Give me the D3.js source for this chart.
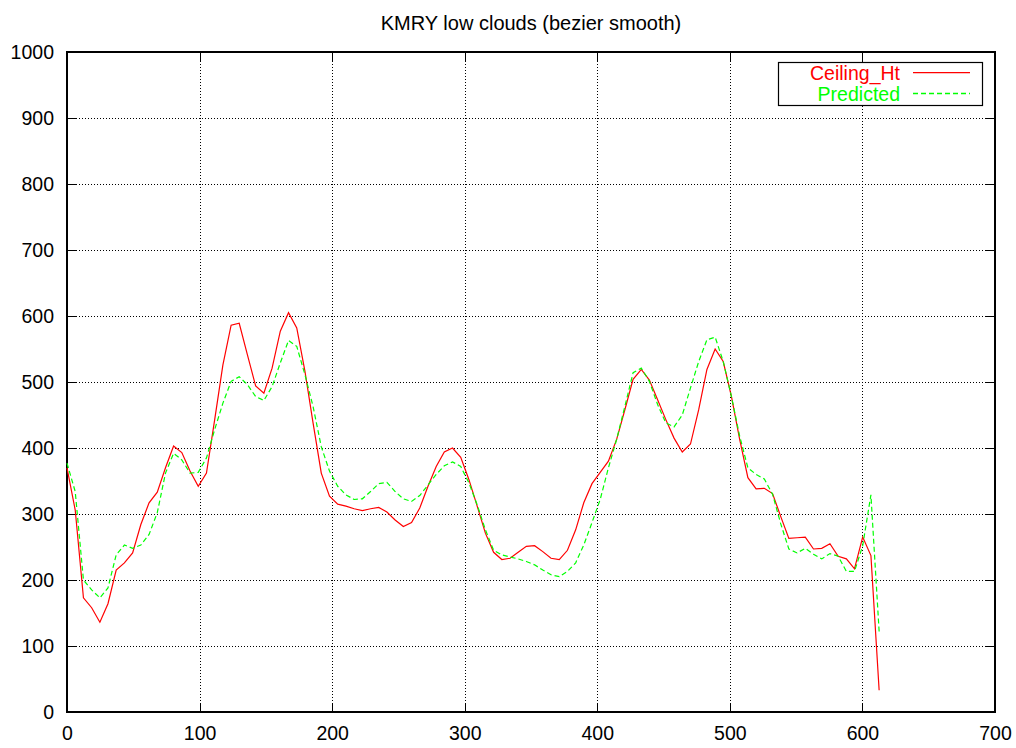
<!DOCTYPE html>
<html>
<head>
<meta charset="utf-8">
<script src="https://cdn.jsdelivr.net/npm/d3@7"></script>
<style>
  html, body { margin: 0; padding: 0; background: #fff; }
  svg { display: block; font-family: "Liberation Sans", Arial, Helvetica, sans-serif; }
</style>
</head>
<body>
<svg id="chart" width="1016" height="748"></svg>
<script>
const title = "KMRY low clouds (bezier smooth)";
const seriesNames = ["Ceiling_Ht", "Predicted"];
const xTicks = [0, 100, 200, 300, 400, 500, 600, 700];
const yTicks = [0, 100, 200, 300, 400, 500, 600, 700, 800, 900, 1000];

const xs = [
  0, 6.2, 12.4, 18.6, 24.8, 30.9, 37.1, 43.3, 49.5, 55.7,
  61.9, 68.1, 74.3, 80.4, 86.6, 92.8, 99.0, 105.2, 111.4, 117.6,
  123.8, 129.9, 136.1, 142.3, 148.5, 154.7, 160.9, 167.1, 173.3, 179.5,
  185.6, 191.8, 198.0, 204.2, 210.4, 216.6, 222.8, 229.0, 235.1, 241.3,
  247.5, 253.7, 259.9, 266.1, 272.3, 278.5, 284.6, 290.8, 297.0, 303.2,
  309.4, 315.6, 321.8, 328.0, 334.2, 340.3, 346.5, 352.7, 358.9, 365.1,
  371.3, 377.5, 383.7, 389.8, 396.0, 402.2, 408.4, 414.6, 420.8, 427.0,
  433.2, 439.3, 445.5, 451.7, 457.9, 464.1, 470.3, 476.5, 482.7, 488.9,
  495.0, 501.2, 507.4, 513.6, 519.8, 526.0, 532.2, 538.4, 544.5, 550.7,
  556.9, 563.1, 569.3, 575.5, 581.7, 587.9, 594.0, 600.2, 606.4, 612.6
];

const ceilingHt = [
  370, 306, 173, 158, 136, 164, 215, 226, 241, 284,
  317, 333, 370, 403, 393, 365, 342, 362, 443, 526,
  586, 589, 541, 494, 483, 521, 577, 605, 582, 516,
  438, 362, 327, 315, 312, 308, 305, 308, 310, 303,
  291, 281, 287, 309, 342, 372, 394, 400, 386, 352,
  312, 271, 242, 231, 233, 242, 251, 252, 243, 233,
  231, 245, 276, 317, 346, 363, 380, 413, 458, 504,
  519, 503, 473, 443, 415, 394, 406, 458, 519, 550,
  531, 478, 413, 355, 338, 339, 331, 296, 263, 264,
  265, 247, 248, 255, 236, 232, 217, 265, 237, 33
];

const predicted = [
  377, 334, 200, 185, 173, 188, 238, 253, 248, 253,
  269, 302, 362, 392, 382, 362, 363, 385, 428, 468,
  501, 508, 496, 478, 472, 493, 529, 563, 554, 511,
  463, 402, 365, 342, 329, 322, 323, 334, 346, 348,
  334, 323, 319, 328, 344, 360, 373, 379, 372, 347,
  314, 276, 245, 238, 235, 232, 228, 223, 215, 208,
  205, 213, 226, 253, 287, 322, 370, 413, 463, 514,
  521, 501, 466, 438, 432, 450, 491, 531, 564, 568,
  531, 478, 418, 370, 360, 353, 330, 285, 247, 241,
  248, 239, 232, 240, 236, 213, 213, 252, 329, 122
];

const colors = ["#ff0000", "#00ff00"];

const svg = d3.select("#chart");
const L = 67, R = 995, T = 52, B = 712;

const x = d3.scaleLinear().domain([0, 700]).range([L, R]);
const y = d3.scaleLinear().domain([0, 1000]).range([B, T]);

// grid
const grid = svg.append("g").attr("stroke", "#000").attr("stroke-width", 1)
  .attr("stroke-dasharray", "1,2").attr("shape-rendering", "crispEdges");
grid.selectAll("line.gx").data(xTicks.filter(d => d > 0 && d < 700)).join("line")
  .attr("x1", d => Math.round(x(d)) + 0.5).attr("x2", d => Math.round(x(d)) + 0.5)
  .attr("y1", T).attr("y2", B);
grid.selectAll("line.gy").data(yTicks.filter(d => d > 0 && d < 1000)).join("line")
  .attr("y1", d => Math.round(y(d)) + 0.5).attr("y2", d => Math.round(y(d)) + 0.5)
  .attr("x1", L).attr("x2", R);

// axes with inward ticks
const fontSize = "19.5px";
function styleAxis(g) {
  g.select(".domain").remove();
  g.selectAll(".tick line").attr("stroke", "#000").attr("shape-rendering", "crispEdges");
  g.selectAll(".tick text").attr("fill", "#000").style("font-size", fontSize)
    .style("font-family", '"Liberation Sans", Arial, Helvetica, sans-serif');
}
svg.append("g").attr("transform", `translate(0,${B})`)
  .call(d3.axisBottom(x).tickValues(xTicks).tickSize(-9).tickPadding(14).tickFormat(d3.format("d")))
  .call(styleAxis);
svg.append("g").attr("transform", `translate(0,${T})`)
  .call(d3.axisTop(x).tickValues(xTicks).tickSize(-9).tickFormat(""))
  .call(styleAxis);
svg.append("g").attr("transform", `translate(${L},0)`)
  .call(d3.axisLeft(y).tickValues(yTicks).tickSize(-9).tickPadding(13).tickFormat(d3.format("d")))
  .call(styleAxis);
svg.append("g").attr("transform", `translate(${R},0)`)
  .call(d3.axisRight(y).tickValues(yTicks).tickSize(-9).tickFormat(""))
  .call(styleAxis);

// border
svg.append("rect").attr("x", L).attr("y", T).attr("width", R - L).attr("height", B - T)
  .attr("fill", "none").attr("stroke", "#000").attr("stroke-width", 1.2)
  .attr("shape-rendering", "crispEdges");

// lines
const line = d3.line().x(d => x(d[0])).y(d => y(d[1]));
const series = [ceilingHt, predicted];
series.forEach((vals, k) => {
  svg.append("path")
    .datum(xs.map((xv, i) => [xv, vals[i]]))
    .attr("d", line)
    .attr("fill", "none")
    .attr("stroke", colors[k])
    .attr("stroke-width", 1.2)
    .attr("stroke-dasharray", k === 1 ? "5,3" : null);
});

// title
svg.append("text").attr("x", (L + R) / 2).attr("y", 30).attr("text-anchor", "middle")
  .style("font-size", "20px").attr("fill", "#000").text(title);

// legend
const lg = svg.append("g");
lg.append("rect").attr("x", 778.5).attr("y", 62.5).attr("width", 204).attr("height", 43)
  .attr("fill", "#fff").attr("stroke", "#000").attr("stroke-width", 1.2);
seriesNames.forEach((name, k) => {
  const ly = 72.7 + k * 20.8;
  lg.append("text").attr("x", 900).attr("y", ly).attr("dy", "0.36em")
    .attr("text-anchor", "end").style("font-size", fontSize).attr("fill", colors[k]).text(name);
  lg.append("path")
    .attr("d", `M913,${ly}H970`)
    .attr("fill", "none")
    .attr("stroke", colors[k]).attr("stroke-width", 1.3)
    .attr("stroke-dasharray", k === 1 ? "5,3" : null);
});
</script>
</body>
</html>
